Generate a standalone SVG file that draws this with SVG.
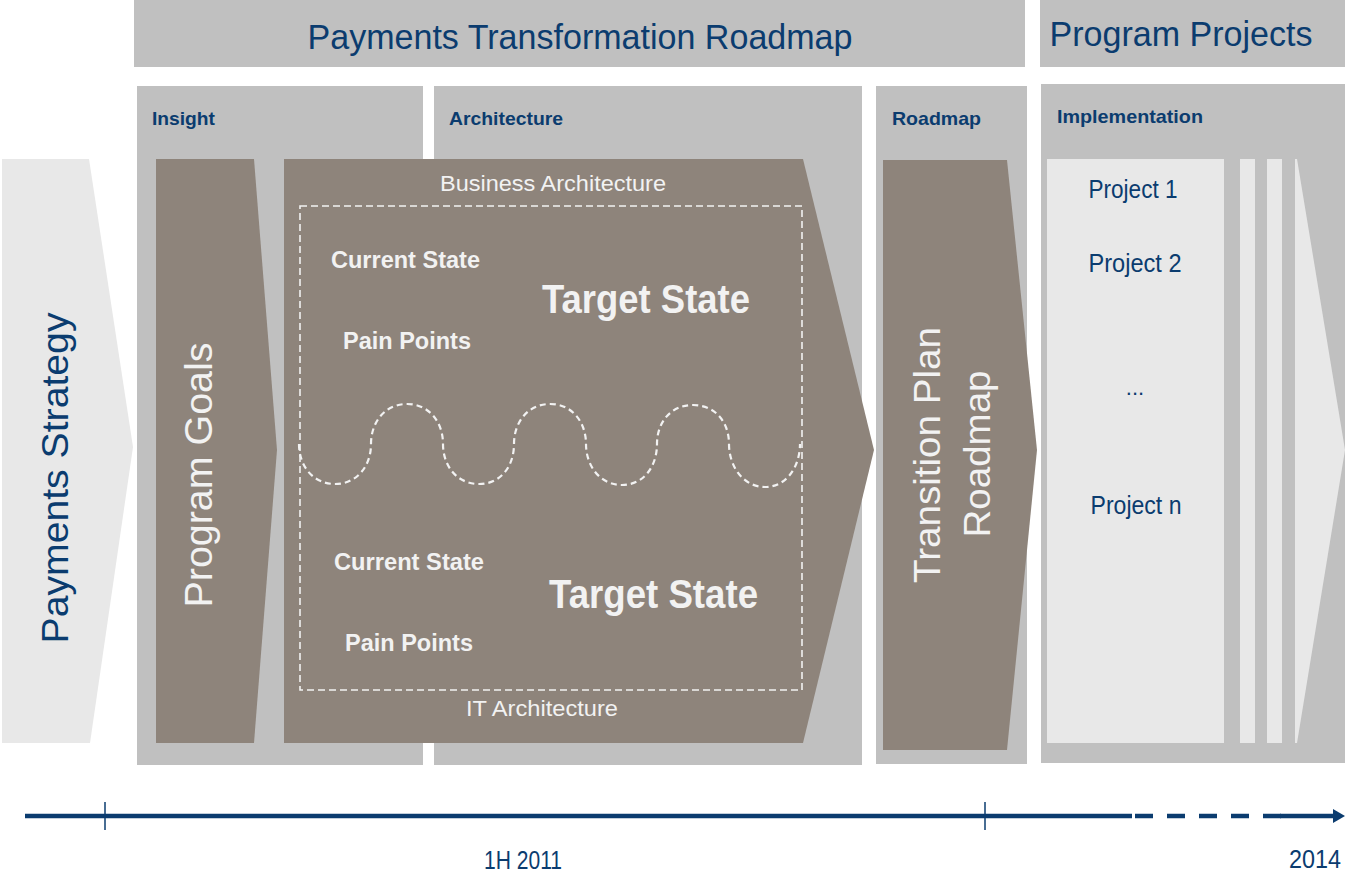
<svg xmlns="http://www.w3.org/2000/svg" width="1345" height="875" viewBox="0 0 1345 875">
  <style>
    .panel { fill: #c0c0c0; }
    .brown { fill: #8e847b; }
    .light { fill: #e8e8e8; }
    .t { font-family: "Liberation Sans", Arial, sans-serif; }
    .navy { fill: #0b3c6f; }
    .wht { fill: #f2f2f2; }
    .b { font-weight: bold; }
    .dash { fill: none; stroke: #f2f2f2; stroke-width: 1.6; stroke-dasharray: 7 4; }
    .wave { fill: none; stroke: #f2f2f2; stroke-width: 2.2; stroke-dasharray: 6 4; }
    .axis { stroke: #0b3c6f; stroke-width: 4.5; fill: none; }
    .tick { stroke: #0b3c6f; stroke-width: 1.5; }
  </style>
  <rect width="1345" height="875" fill="#ffffff"/>

  <g id="header-roadmap">
    <rect class="panel" x="134" y="-1" width="891" height="68"/>
    <text class="t navy" x="580" y="49" font-size="35" text-anchor="middle" textLength="545" lengthAdjust="spacingAndGlyphs">Payments Transformation Roadmap</text>
  </g>
  <g id="header-projects">
    <rect class="panel" x="1040" y="-1" width="306" height="68"/>
    <text class="t navy" x="1181" y="46" font-size="35" text-anchor="middle" textLength="263" lengthAdjust="spacingAndGlyphs">Program Projects</text>
  </g>

  <g id="payments-strategy">
    <polygon class="light" points="2,159 89,159 133,447 90,743 2,743"/>
    <text class="t navy" transform="translate(68,478) rotate(-90)" font-size="37" text-anchor="middle" textLength="331" lengthAdjust="spacingAndGlyphs">Payments Strategy</text>
  </g>

  <g id="insight">
    <rect class="panel" x="137" y="86" width="286" height="679"/>
    <text class="t navy b" x="152" y="125" font-size="19" textLength="63" lengthAdjust="spacingAndGlyphs">Insight</text>
  </g>
  <g id="architecture-panel">
    <rect class="panel" x="434" y="86" width="428" height="679"/>
    <text class="t navy b" x="449" y="125" font-size="19" textLength="114" lengthAdjust="spacingAndGlyphs">Architecture</text>
  </g>
  <g id="roadmap-panel">
    <rect class="panel" x="876" y="86" width="151" height="678"/>
    <text class="t navy b" x="892" y="125" font-size="19" textLength="89" lengthAdjust="spacingAndGlyphs">Roadmap</text>
  </g>
  <g id="implementation-panel">
    <rect class="panel" x="1041" y="84" width="305" height="679"/>
    <text class="t navy b" x="1057" y="123" font-size="19" textLength="146" lengthAdjust="spacingAndGlyphs">Implementation</text>
  </g>

  <g id="program-goals">
    <polygon class="brown" points="156,159 254,159 277,450 254,743 156,743"/>
    <text class="t wht" transform="translate(212,475) rotate(-90)" font-size="38" text-anchor="middle" textLength="265" lengthAdjust="spacingAndGlyphs">Program Goals</text>
  </g>

  <g id="architecture">
    <polygon class="brown" points="284,159 803,159 874,450 803,743 284,743"/>
    <text class="t wht" x="553" y="191" font-size="22" text-anchor="middle" textLength="226" lengthAdjust="spacingAndGlyphs">Business Architecture</text>
    <rect class="dash" x="300" y="206" width="502" height="484"/>
    <path class="wave" d="M299,444 C299,466 313,484 335,484 C357,484 371,466 371,444 C371,422 385,404 407,404 C429,404 443,422 443,444 C443,466 457,484 479,484 C501,484 514,466 514,444 C514,422 528,404 550,404 C572,404 586,422 586,444 C586,466 600,485 622,485 C644,485 657,466 657,444 C657,422 671,405 693,405 C715,405 729,422 729,444 C729,466 743,487 765,487 C787,487 800,466 800,444"/>
    <text class="t wht b" x="331" y="268" font-size="23.5" textLength="149" lengthAdjust="spacingAndGlyphs">Current State</text>
    <text class="t wht b" x="343" y="349" font-size="23.5" textLength="128" lengthAdjust="spacingAndGlyphs">Pain Points</text>
    <text class="t wht b" x="542" y="313" font-size="40" textLength="208" lengthAdjust="spacingAndGlyphs">Target State</text>
    <text class="t wht b" x="334" y="570" font-size="23.5" textLength="150" lengthAdjust="spacingAndGlyphs">Current State</text>
    <text class="t wht b" x="345" y="651" font-size="23.5" textLength="128" lengthAdjust="spacingAndGlyphs">Pain Points</text>
    <text class="t wht b" x="549" y="608" font-size="40" textLength="209" lengthAdjust="spacingAndGlyphs">Target State</text>
    <text class="t wht" x="542" y="716" font-size="22" text-anchor="middle" textLength="152" lengthAdjust="spacingAndGlyphs">IT Architecture</text>
  </g>

  <g id="transition-plan">
    <polygon class="brown" points="883,160 1007,160 1037,450 1007,750 883,750"/>
    <text class="t wht" transform="translate(940,455) rotate(-90)" font-size="37" text-anchor="middle" textLength="256" lengthAdjust="spacingAndGlyphs">Transition Plan</text>
    <text class="t wht" transform="translate(990,454) rotate(-90)" font-size="37" text-anchor="middle" textLength="167" lengthAdjust="spacingAndGlyphs">Roadmap</text>
  </g>

  <g id="projects">
    <rect class="light" x="1047" y="159" width="177" height="584"/>
    <rect class="light" x="1240" y="159" width="15" height="584"/>
    <rect class="light" x="1267" y="159" width="15" height="584"/>
    <polygon class="light" points="1295,159 1297,159 1345,450 1297,743 1295,743"/>
    <text class="t navy" x="1133" y="198" font-size="25" text-anchor="middle" textLength="89" lengthAdjust="spacingAndGlyphs">Project 1</text>
    <text class="t navy" x="1135" y="272" font-size="25" text-anchor="middle" textLength="93" lengthAdjust="spacingAndGlyphs">Project 2</text>
    <text class="t navy" x="1135" y="395" font-size="22" text-anchor="middle">...</text>
    <text class="t navy" x="1136" y="514" font-size="25" text-anchor="middle" textLength="91" lengthAdjust="spacingAndGlyphs">Project n</text>
  </g>

  <g id="connectors">
    <line class="axis" x1="25" y1="816" x2="1132" y2="816"/>
    <line class="axis" x1="1135" y1="816" x2="1281" y2="816" stroke-dasharray="18 14"/>
    <line class="axis" x1="1280" y1="816" x2="1334" y2="816"/>
    <polygon points="1333,809 1345,816 1333,823" fill="#0b3c6f"/>
    <line class="tick" x1="105" y1="802" x2="105" y2="830"/>
    <line class="tick" x1="985" y1="802" x2="985" y2="830"/>
  </g>

  <g id="timeline-labels">
    <text class="t navy" x="523" y="869" font-size="26" text-anchor="middle" textLength="78" lengthAdjust="spacingAndGlyphs">1H 2011</text>
    <text class="t navy" x="1341" y="868" font-size="25" text-anchor="end" textLength="52" lengthAdjust="spacingAndGlyphs">2014</text>
  </g>
</svg>
